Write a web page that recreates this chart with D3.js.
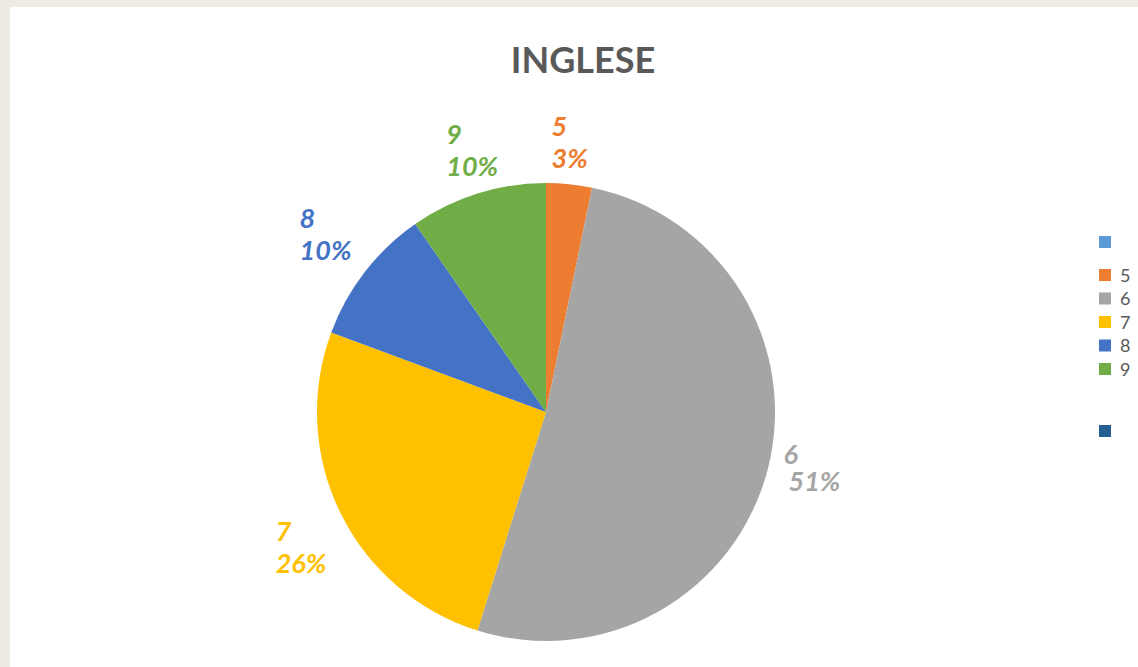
<!DOCTYPE html>
<html>
<head>
<meta charset="utf-8">
<script src="https://cdn.jsdelivr.net/npm/d3@7"></script>
<style>
  body { margin: 0; background: #efebe4; }
  svg { display: block; }
</style>
</head>
<body>
<div id="chart"></div>
<script>
/**
 * DATA
 * */
const categories = ["", "5", "6", "7", "8", "9", ""];
const counts = [0, 1, 16, 8, 3, 3, 0];
const pctLabels = ["", "3%", "51%", "26%", "10%", "10%", ""];
const colors = ["#5b9bd5", "#ed7d31", "#a5a5a5", "#ffc000", "#4472c4", "#70ad47", "#255e91"];

/**
 * CONSTANTS
 * */
const width = 1138, height = 667;
const cx = 546, cy = 412, radius = 229;
const font = "Lato, 'Open Sans', sans-serif";
// small hand nudges so the labels sit where Excel's "best fit" put them
const nudge = { "5": [-4, 4], "6": [-1, -14], "7": [3, 13], "8": [-2, -10], "9": [9, 1] };

const svg = d3.select("#chart").append("svg")
  .attr("width", width)
  .attr("height", height);

// white chart area
svg.append("rect")
  .attr("x", 10).attr("y", 7)
  .attr("width", width - 10).attr("height", height - 7)
  .attr("fill", "#fff");

svg.append("text")
  .attr("x", 583).attr("y", 73)
  .attr("text-anchor", "middle")
  .attr("font-family", font)
  .attr("font-weight", 700)
  .attr("font-size", 36)
  .attr("fill", "#595959")
  .text("INGLESE");

const data = categories.map((c, i) => ({ cat: c, value: counts[i], pct: pctLabels[i], color: colors[i] }));

const pie = d3.pie().value(d => d.value).sort(null);
const arcs = pie(data);
const arc = d3.arc().innerRadius(0).outerRadius(radius);
const labelArc = d3.arc().innerRadius(276).outerRadius(276);

const g = svg.append("g").attr("transform", `translate(${cx},${cy})`);

g.selectAll("path")
  .data(arcs.filter(d => d.data.value > 0))
  .join("path")
  .attr("d", arc)
  .attr("fill", d => d.data.color);

// labels: left aligned two-line blocks centred on the label arc
const labels = g.selectAll("text.lbl")
  .data(arcs.filter(d => d.data.value > 0))
  .join("text")
  .attr("class", "lbl")
  .attr("font-family", font)
  .attr("font-weight", 700)
  .attr("font-style", "italic")
  .attr("font-size", 27)
  .attr("fill", d => d.data.color);

labels.each(function(d) {
  const t = d3.select(this);
  const tight = d.data.cat === "6";
  t.append("tspan").attr("x", 0).attr("dy", 0).text(d.data.cat);
  t.append("tspan").attr("x", tight ? 5 : 0).attr("dy", tight ? 27 : 32).text(d.data.pct);
  const bb = this.getBBox();
  const [lx, ly] = labelArc.centroid(d);
  const [nx, ny] = nudge[d.data.cat] || [0, 0];
  t.attr("transform", `translate(${lx + nx - bb.x - bb.width / 2},${ly + ny - bb.y - bb.height / 2})`);
});

// legend
const legend = svg.append("g").attr("transform", "translate(1099,0)");
let y = 242;
const rows = data.map((d, i) => {
  const r = { d, y };
  if (i === 0) y += 33;
  else if (data[i + 1] && data[i + 1].cat === "") y += 62;
  else y += 23.5;
  return r;
});

const item = legend.selectAll("g")
  .data(rows)
  .join("g")
  .attr("transform", r => `translate(0,${r.y})`);

item.append("rect")
  .attr("x", 0).attr("y", -6)
  .attr("width", 12).attr("height", 12)
  .attr("fill", r => r.d.color);

item.append("text")
  .attr("x", 21).attr("y", 6.5)
  .attr("font-family", font)
  .attr("font-size", 18)
  .attr("fill", "#595959")
  .text(r => r.d.cat);
</script>
</body>
</html>
